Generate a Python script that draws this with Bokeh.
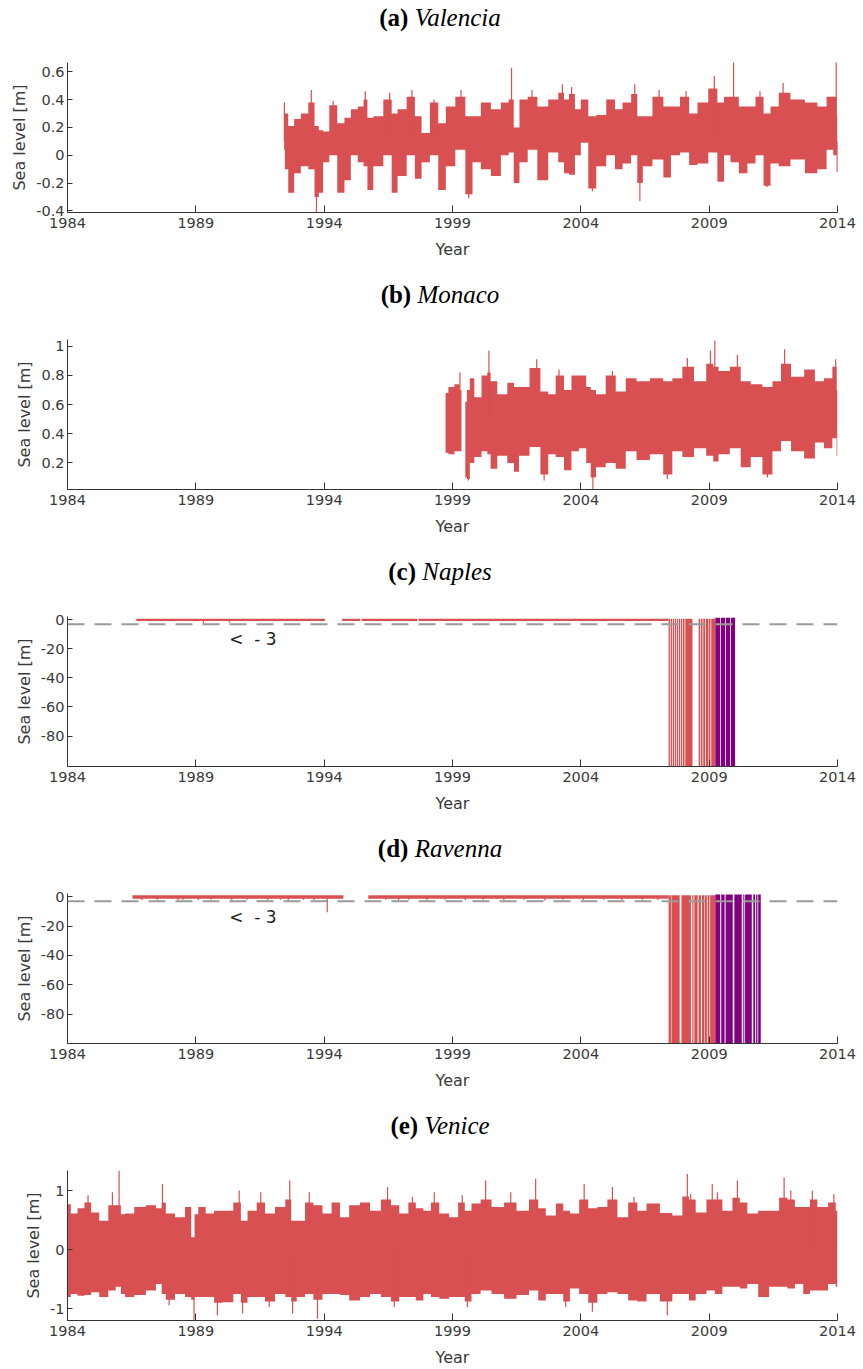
import math
from bokeh.plotting import figure
from bokeh.layouts import column
from bokeh.models import Div, FixedTicker, Span, Label, Range1d
from bokeh.embed import file_html
from bokeh.resources import INLINE

RED = "#D95052"
PURPLE = "#800080"
AXIS = "#333333"

# ---------------- data ----------------
year_ticks = [1984, 1989, 1994, 1999, 2004, 2009, 2014]
year_labels = ["1984", "1989", "1994", "1999", "2004", "2009", "2014"]

titles = [("(a)", "Valencia"), ("(b)", "Monaco"), ("(c)", "Naples"),
          ("(d)", "Ravenna"), ("(e)", "Venice")]

# Valencia envelope
val_year = [1992.44, 1992.50, 1992.70, 1992.96, 1993.22, 1993.54, 1993.71, 1993.87, 1994.05, 1994.35,
            1994.67, 1994.91, 1995.17, 1995.45, 1995.62, 1995.75, 1996.08, 1996.53, 1996.73, 1996.99,
            1997.44, 1997.63, 1997.96, 1998.28, 1998.61, 1998.87, 1999.35, 1999.65, 1999.91, 2000.30,
            2000.69, 2001.08, 2001.30, 2001.47, 2001.75, 2002.11, 2002.50, 2002.96, 2003.28, 2003.41,
            2003.67, 2003.87, 2004.13, 2004.45, 2004.75, 2005.23, 2005.43, 2005.82, 2006.10, 2006.30,
            2006.53, 2007.05, 2007.38, 2007.64, 2008.09, 2008.35, 2008.74, 2009.19, 2009.45, 2009.71,
            2009.95, 2010.36, 2010.62, 2010.99, 2011.25, 2011.53, 2011.89, 2012.44, 2013.02, 2013.41,
            2013.74, 2013.93, 2014.00]
val_hi = [0.38, 0.30, 0.21, 0.26, 0.30, 0.38, 0.21, 0.18, 0.17, 0.36,
          0.23, 0.27, 0.33, 0.35, 0.40, 0.27, 0.28, 0.40, 0.30, 0.33,
          0.42, 0.28, 0.16, 0.38, 0.23, 0.35, 0.42, 0.28, 0.28, 0.38,
          0.33, 0.38, 0.40, 0.20, 0.40, 0.42, 0.35, 0.40, 0.45, 0.40,
          0.44, 0.33, 0.40, 0.28, 0.29, 0.40, 0.33, 0.38, 0.44, 0.28,
          0.28, 0.42, 0.35, 0.35, 0.42, 0.30, 0.38, 0.48, 0.38, 0.42,
          0.42, 0.35, 0.35, 0.42, 0.30, 0.35, 0.45, 0.40, 0.38, 0.35,
          0.42, 0.42, 0.28]
val_lo = [0.04, -0.10, -0.27, -0.13, -0.08, -0.10, -0.30, -0.27, -0.05, 0.00,
          -0.27, -0.18, 0.00, -0.05, -0.08, -0.25, -0.08, 0.00, -0.27, -0.15,
          0.00, -0.17, -0.05, 0.00, -0.25, -0.08, 0.04, -0.28, -0.05, -0.10,
          -0.15, 0.00, 0.02, -0.20, -0.05, 0.04, -0.18, 0.02, -0.05, -0.13,
          -0.14, 0.00, 0.09, -0.24, -0.08, 0.00, -0.10, -0.06, 0.00, -0.20,
          -0.08, -0.03, -0.16, 0.00, 0.02, -0.07, -0.06, 0.02, -0.19, 0.00,
          -0.05, -0.13, -0.06, 0.00, -0.22, -0.06, -0.08, -0.03, -0.13, -0.10,
          0.04, 0.00, -0.12]
val_spike_year = [1992.45, 1993.50, 1993.70, 1994.35, 1995.60, 1996.55, 1997.42, 1998.28, 1999.33,
                  1999.63, 2001.30, 2002.10, 2003.28, 2003.64, 2004.45, 2006.10, 2006.30, 2007.05,
                  2008.10, 2009.20, 2009.95, 2010.98, 2011.25, 2011.88, 2013.95, 2014.00]
val_spike_value = [0.38, 0.47, -0.41, 0.39, 0.46, 0.45, 0.47, 0.40, 0.47,
                   -0.31, 0.63, 0.47, 0.51, 0.49, -0.26, 0.51, -0.33, 0.47,
                   0.46, 0.57, 0.67, 0.46, -0.23, 0.52, 0.68, -0.12]

# Monaco envelope (NaN marks the data gap)
mon_year = [1998.73, 1998.95, 1999.20, 1999.35, float("nan"),
            1999.50, 1999.62, 1999.73, 1999.97, 2000.29, 2000.42, 2000.55, 2000.94, 2001.33, 2001.46,
            2001.72, 2002.28, 2002.57, 2002.89, 2003.15, 2003.54, 2003.73, 2004.12, 2004.30, 2004.47,
            2004.71, 2005.23, 2005.49, 2006.01, 2006.33, 2007.05, 2007.37, 2007.76, 2008.15, 2008.67,
            2009.10, 2009.22, 2009.51, 2010.10, 2010.36, 2010.88, 2011.27, 2011.66, 2011.94, 2012.44,
            2012.96, 2013.28, 2013.67, 2013.93, 2014.00]
mon_hi = [0.68, 0.72, 0.74, 0.70, float("nan"),
          0.62, 0.70, 0.78, 0.65, 0.80, 0.82, 0.76, 0.67, 0.75, 0.72,
          0.72, 0.85, 0.69, 0.67, 0.80, 0.70, 0.80, 0.80, 0.72, 0.70,
          0.67, 0.80, 0.69, 0.78, 0.76, 0.78, 0.76, 0.78, 0.86, 0.76,
          0.88, 0.86, 0.83, 0.86, 0.76, 0.74, 0.72, 0.76, 0.88, 0.79,
          0.84, 0.76, 0.78, 0.86, 0.70]
mon_lo = [0.27, 0.26, 0.28, 0.28, float("nan"),
          0.10, 0.09, 0.20, 0.24, 0.28, 0.26, 0.16, 0.25, 0.20, 0.14,
          0.25, 0.31, 0.12, 0.26, 0.24, 0.15, 0.28, 0.30, 0.20, 0.10,
          0.17, 0.20, 0.16, 0.28, 0.22, 0.26, 0.12, 0.28, 0.24, 0.30,
          0.25, 0.21, 0.26, 0.30, 0.17, 0.24, 0.12, 0.28, 0.35, 0.28,
          0.23, 0.34, 0.30, 0.37, 0.25]
mon_spike_year = [1999.29, 1999.62, 2000.42, 2002.28, 2002.57, 2003.15, 2004.47, 2005.23, 2007.37,
                  2008.15, 2009.05, 2009.22, 2010.10, 2011.27, 2011.94, 2013.93]
mon_spike_value = [0.82, 0.08, 0.97, 0.91, 0.08, 0.84, 0.02, 0.83, 0.09,
                   0.92, 0.97, 1.04, 0.94, 0.10, 0.98, 0.91]

# Naples
nap_run_start = [1986.68, 1994.70, 1995.46, 1997.68]
nap_run_end = [1994.03, 1995.40, 1997.63, 2007.42]
nap_dip_year = [1989.30, 1990.30]
nap_dip_value = [-2.5, -2.0]
nap_red_left = [2007.42, 2007.50, 2007.58, 2007.66, 2007.74, 2007.82, 2007.90, 2007.98, 2008.07,
                2008.59, 2008.68, 2008.77, 2008.87, 2008.99, 2009.08]
nap_red_right = [2007.47, 2007.55, 2007.63, 2007.71, 2007.79, 2007.87, 2007.95, 2008.04, 2008.35,
                 2008.65, 2008.74, 2008.84, 2008.97, 2009.05, 2009.24]
nap_purple_left = [2009.24, 2009.46, 2009.65, 2009.85]
nap_purple_right = [2009.43, 2009.62, 2009.82, 2010.01]

# Ravenna
rav_run_start = [1986.53, 1995.72]
rav_run_end = [1994.75, 2007.42]
rav_dip_year = [1986.9, 1987.5, 1988.3, 1988.5, 1989.1, 1989.6, 1990.4, 1991.0, 1991.8, 1992.3,
                1992.6, 1993.2, 1993.6, 1994.12, 1996.4, 1996.9, 1997.3, 1998.0, 1998.7, 1999.5,
                2000.2, 2001.0, 2001.8, 2002.6, 2003.3, 2004.1, 2004.9, 2005.6, 2006.4, 2007.0]
rav_dip_value = [-2.2, -2.0, -2.5, -2.0, -2.2, -2.0, -2.5, -2.0, -2.2, -2.0,
                 -2.5, -2.0, -2.2, -10.5, -2.0, -2.2, -2.0, -2.5, -2.0, -2.2,
                 -2.0, -2.2, -2.0, -2.5, -2.0, -2.2, -2.0, -2.2, -2.0, -2.2]
rav_red_left = [2007.42, 2007.53, 2007.92, 2008.34, 2008.42, 2008.59, 2008.72, 2008.83, 2008.94, 2009.04]
rav_red_right = [2007.51, 2007.85, 2008.29, 2008.39, 2008.55, 2008.68, 2008.81, 2008.91, 2009.01, 2009.24]
rav_purple_left = [2009.24, 2009.47, 2009.64, 2009.98, 2010.33, 2010.40, 2010.72, 2010.83, 2010.91]
rav_purple_right = [2009.43, 2009.60, 2009.92, 2010.27, 2010.37, 2010.66, 2010.79, 2010.88, 2011.01]

threshold = -3
threshold_text = "<\u00a0\u00a0-\u00a03"

# Venice envelope
ven_year = [1984.00, 1984.26, 1984.52, 1984.80, 1985.04, 1985.43, 1985.75, 1986.01, 1986.15, 1986.34,
            1986.86, 1987.25, 1987.64, 1987.70, 1987.96, 1988.42, 1988.74, 1988.90, 1989.00, 1989.19,
            1989.58, 1989.84, 1990.23, 1990.69, 1990.82, 1991.21, 1991.53, 1991.86, 1992.31, 1992.66,
            1992.77, 1993.09, 1993.42, 1993.74, 1994.13, 1994.45, 1994.78, 1995.17, 1995.62, 1995.95,
            1996.47, 1996.73, 1997.12, 1997.44, 1997.70, 1998.03, 1998.29, 1998.68, 1999.06, 1999.38,
            1999.58, 1999.90, 2000.29, 2000.75, 2001.27, 2001.72, 2002.24, 2002.44, 2002.83, 2003.22,
            2003.41, 2003.74, 2004.13, 2004.45, 2004.84, 2005.23, 2005.62, 2006.07, 2006.33, 2006.79,
            2007.37, 2007.76, 2008.15, 2008.28, 2008.67, 2009.12, 2009.32, 2009.71, 2010.10, 2010.29,
            2010.68, 2011.14, 2011.53, 2011.92, 2012.18, 2012.50, 2012.83, 2013.02, 2013.41, 2013.86,
            2014.00]
ven_hi = [0.77, 0.61, 0.70, 0.80, 0.63, 0.49, 0.75, 0.75, 0.60, 0.61,
          0.72, 0.75, 0.70, 0.80, 0.61, 0.55, 0.72, 0.21, 0.60, 0.72,
          0.61, 0.66, 0.66, 0.80, 0.49, 0.66, 0.80, 0.61, 0.72, 0.85,
          0.49, 0.49, 0.80, 0.75, 0.61, 0.80, 0.55, 0.75, 0.80, 0.66,
          0.85, 0.75, 0.61, 0.80, 0.70, 0.66, 0.80, 0.61, 0.55, 0.80,
          0.66, 0.78, 0.85, 0.72, 0.80, 0.66, 0.85, 0.70, 0.58, 0.78,
          0.66, 0.61, 0.85, 0.70, 0.72, 0.85, 0.55, 0.80, 0.66, 0.78,
          0.62, 0.58, 0.90, 0.85, 0.63, 0.85, 0.85, 0.66, 0.88, 0.80,
          0.61, 0.66, 0.66, 0.88, 0.85, 0.72, 0.72, 0.85, 0.72, 0.80,
          0.66]
ven_lo = [-0.80, -0.75, -0.78, -0.77, -0.72, -0.80, -0.69, -0.63, -0.75, -0.80,
          -0.77, -0.69, -0.58, -0.75, -0.85, -0.75, -0.80, -0.85, -0.80, -0.80,
          -0.80, -0.90, -0.89, -0.75, -0.90, -0.80, -0.80, -0.88, -0.75, -0.80,
          -0.88, -0.80, -0.75, -0.85, -0.75, -0.75, -0.77, -0.86, -0.80, -0.75,
          -0.80, -0.88, -0.80, -0.80, -0.86, -0.75, -0.80, -0.83, -0.80, -0.80,
          -0.88, -0.75, -0.69, -0.75, -0.83, -0.77, -0.69, -0.86, -0.75, -0.75,
          -0.88, -0.66, -0.75, -0.90, -0.75, -0.72, -0.75, -0.86, -0.88, -0.75,
          -0.88, -0.75, -0.75, -0.86, -0.75, -0.69, -0.75, -0.63, -0.63, -0.66,
          -0.58, -0.80, -0.63, -0.63, -0.66, -0.58, -0.75, -0.69, -0.69, -0.58,
          -0.63]
ven_spike_year = [1984.80, 1985.75, 1986.01, 1987.70, 1990.69, 1991.53, 1992.66, 1993.42, 1996.47,
                  1997.44, 1998.29, 1999.38, 2000.29, 2001.27, 2002.24, 2004.13, 2005.23, 2006.07,
                  2008.15, 2008.28, 2009.12, 2009.32, 2010.10, 2011.92, 2012.18, 2013.02, 2013.86,
                  1987.96, 1988.93, 1989.84, 1990.82, 1991.86, 1992.77, 1993.74, 1996.73, 1999.58,
                  2003.41, 2004.45, 2007.37]
ven_spike_value = [0.92, 0.97, 1.34, 1.11, 1.00, 0.97, 1.17, 0.97, 1.06,
                   0.89, 0.97, 0.92, 1.17, 0.97, 1.20, 1.11, 1.06, 0.89,
                   1.28, 0.94, 1.11, 0.97, 1.17, 1.22, 1.00, 1.00, 0.94,
                   -0.94, -1.20, -1.11, -1.08, -0.97, -1.08, -1.17, -0.97, -0.97,
                   -0.97, -1.05, -1.11]

# y-axis settings per panel
y_ranges = [(-0.412, 0.667), (0.018, 1.046), (-101.0, 2.3), (-100.0, 2.2), (-1.2, 1.34)]
y_ticks = [[-0.4, -0.2, 0, 0.2, 0.4, 0.6], [0.2, 0.4, 0.6, 0.8, 1.0],
           [-80, -60, -40, -20, 0], [-80, -60, -40, -20, 0], [-1, 0, 1]]
y_tick_labels = [["-0.4", "-0.2", "0", "0.2", "0.4", "0.6"], ["0.2", "0.4", "0.6", "0.8", "1"],
                 ["-80", "-60", "-40", "-20", "0"], ["-80", "-60", "-40", "-20", "0"], ["-1", "0", "1"]]

TICK_FONT = "DejaVu Sans"
FRAME_W, FRAME_H = 770, 150
BORDER_L, BORDER_R, BORDER_T = 67, 20, 26
TITLE_H = 36
FIG_W = BORDER_L + FRAME_W + BORDER_R


def split_nan(xs, a, b):
    segs, cx, ca, cb = [], [], [], []
    for x, u, v in zip(xs, a, b):
        if isinstance(x, float) and math.isnan(x):
            if cx:
                segs.append((cx, ca, cb))
            cx, ca, cb = [], [], []
        else:
            cx.append(x); ca.append(u); cb.append(v)
    if cx:
        segs.append((cx, ca, cb))
    return segs


def band(p, xs, lo, hi):
    if hasattr(p, "varea_step"):
        p.varea_step(x=xs, y1=lo, y2=hi, step_mode="center", fill_color=RED)
    else:
        p.varea(x=xs, y1=lo, y2=hi, fill_color=RED)


def make_fig(i, bottom=65):
    lo, hi = y_ranges[i]
    p = figure(frame_width=FRAME_W, frame_height=FRAME_H, output_backend="svg", toolbar_location=None,
               x_range=Range1d(1984, 2014), y_range=Range1d(lo, hi),
               min_border_left=BORDER_L, min_border_right=BORDER_R, min_border_top=BORDER_T,
               min_border_bottom=bottom)
    p.outline_line_color = None
    p.grid.visible = False
    p.background_fill_color = "white"
    p.border_fill_color = "white"
    xa, ya = p.xaxis[0], p.yaxis[0]
    xa.ticker = FixedTicker(ticks=year_ticks)
    xa.major_label_overrides = {t: l for t, l in zip(year_ticks, year_labels)}
    ya.ticker = FixedTicker(ticks=y_ticks[i])
    ya.major_label_overrides = {t: l for t, l in zip(y_ticks[i], y_tick_labels[i])}
    for ax in (xa, ya):
        ax.axis_line_color = AXIS
        ax.major_tick_line_color = AXIS
        ax.minor_tick_line_color = None
        ax.major_tick_out = 0
        ax.major_label_text_font = TICK_FONT
        ax.major_label_text_font_size = "14.5px"
        ax.major_label_text_color = "#3a3a3a"
        ax.axis_label_text_font = TICK_FONT
        ax.axis_label_text_font_size = "16px"
        ax.axis_label_text_font_style = "normal"
        ax.axis_label_text_color = "#3a3a3a"
    xa.major_tick_in = 7
    ya.major_tick_in = 5
    xa.major_label_standoff = 5
    ya.major_label_standoff = 3
    xa.axis_label = "Year"
    ya.axis_label = "Sea level [m]"
    xa.axis_label_standoff = 9
    ya.axis_label_standoff = 4
    return p


def title_div(tag, name):
    html = (f'<div style="display:block; box-sizing:border-box; width:{FIG_W}px; text-align:center; '
            f'padding-left:23px; line-height:{TITLE_H}px; white-space:nowrap;">'
            f'<b>{tag}</b> <i>{name}</i></div>')
    return Div(text=html, width=FIG_W, height=TITLE_H, margin=0,
               styles={"font-family": "Liberation Serif", "font-size": "25px", "color": "#000",
                       "text-align": "center"})


items = []

# (a) Valencia
p = make_fig(0)
band(p, val_year, val_lo, val_hi)
p.segment(x0=val_spike_year, y0=[0.1] * len(val_spike_year), x1=val_spike_year, y1=val_spike_value,
          line_color=RED, line_width=1.2)
items += [title_div(*titles[0]), p]

# (b) Monaco
p = make_fig(1)
for sx, slo, shi in split_nan(mon_year, mon_lo, mon_hi):
    band(p, sx, slo, shi)
p.segment(x0=mon_spike_year, y0=[0.5] * len(mon_spike_year), x1=mon_spike_year, y1=mon_spike_value,
          line_color=RED, line_width=1.2)
items += [title_div(*titles[1]), p]


def bad_station(i, run_s, run_e, run_top, run_bot, dip_y, dip_v, red_l, red_r, pur_l, pur_r, ly):
    p = make_fig(i)
    lo = y_ranges[i][0]
    p.quad(left=run_s, right=run_e, top=[run_top] * len(run_s), bottom=[run_bot] * len(run_s),
           fill_color=RED, line_color=None)
    p.segment(x0=dip_y, y0=[0] * len(dip_y), x1=dip_y, y1=dip_v, line_color=RED, line_width=1.2)
    p.quad(left=red_l, right=red_r, top=[run_top] * len(red_l), bottom=[lo] * len(red_l),
           fill_color=RED, line_color=None)
    p.quad(left=pur_l, right=pur_r, top=[run_top + 0.6] * len(pur_l), bottom=[lo] * len(pur_l),
           fill_color=PURPLE, line_color=None)
    p.add_layout(Span(location=threshold, dimension="width", line_color="#9a9a9a",
                      line_width=2, line_dash="17 10"))
    p.add_layout(Label(x=1990.3, y=ly, text=threshold_text, text_font=TICK_FONT,
                       text_font_size="17px", text_color="#222222", text_baseline="middle",
                       text_align="left"))
    return p


p = bad_station(2, nap_run_start, nap_run_end, 0.8, -0.8, nap_dip_year, nap_dip_value,
                nap_red_left, nap_red_right, nap_purple_left, nap_purple_right, -13.3)
items += [title_div(*titles[2]), p]

p = bad_station(3, rav_run_start, rav_run_end, 1.0, -1.3, rav_dip_year, rav_dip_value,
                rav_red_left, rav_red_right, rav_purple_left, rav_purple_right, -14.1)
items += [title_div(*titles[3]), p]

# (e) Venice
p = make_fig(4, bottom=48)
band(p, ven_year, ven_lo, ven_hi)
p.segment(x0=ven_spike_year, y0=[0] * len(ven_spike_year), x1=ven_spike_year, y1=ven_spike_value,
          line_color=RED, line_width=1.2)
items += [title_div(*titles[4]), p]

layout = column(*items, spacing=0)
open("out.html", "w").write(file_html(layout, INLINE))
